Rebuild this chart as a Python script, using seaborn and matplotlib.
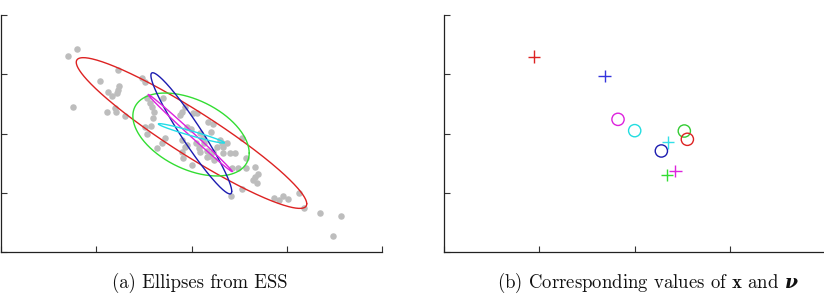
import numpy as np
import pandas as pd
import matplotlib
matplotlib.use("Agg")
import matplotlib.pyplot as plt
import seaborn as sns

# ---------------- data ----------------
# grey samples (left panel)
pts_x = [-1.300, -1.202, -1.248, -0.775, -0.964, -0.873, -0.838, -0.761, -0.768, -0.786,
         -0.891, -0.796, -0.803, -0.698, -0.523, -0.488, -0.471, -0.418, -0.436, -0.394,
         -0.408, -0.488, -0.429, -0.467, -0.296, -0.366, -0.313, -0.278, -0.103, -0.121,
         -0.068, 0.019, 0.061, -0.044, -0.005, 0.089, 0.177, 0.229, 0.201, 0.117,
         0.131, 0.082, -0.103, -0.068, -0.103, -0.051, -0.093, 0.002, 0.159, 0.194,
         0.236, 0.299, 0.334, 0.327, 0.404, 0.457, 0.569, 0.527, 0.422, 0.492,
         0.572, 0.667, 0.702, 0.667, 0.649, 0.684, 0.530, 0.411, 0.866, 0.922,
         0.964, 1.010, 1.125, 1.181, 1.349, 1.566, 1.482, 0.317, 0.369, 0.264,
         0.159, 0.089, 0.229, 0.047]
pts_y = [1.314, 1.426, 0.453, 1.077, 0.881, 0.706, 0.633, 0.807, 0.734, 0.678,
         0.357, 0.363, 0.425, 0.295, 0.931, 0.864, 0.594, 0.453, 0.509, 0.369,
         0.256, 0.115, 0.132, -0.008, 0.605, -0.250, -0.166, -0.070, 0.357, 0.312,
         0.453, 0.340, 0.340, 0.115, 0.076, 0.003, 0.200, 0.155, 0.031, -0.070,
         -0.166, -0.250, -0.110, -0.222, -0.307, -0.194, -0.419, -0.532, -0.290, -0.380,
         -0.447, -0.110, -0.222, -0.323, -0.335, -0.335, -0.408, -0.082, -0.588, -0.588,
         -0.588, -0.560, -0.689, -0.729, -0.785, -0.830, -0.937, -1.055, -1.083, -1.122,
         -1.049, -1.111, -1.010, -1.263, -1.336, -1.392, -1.730, -0.166, -0.166, -0.222,
         -0.391, -0.307, -0.307, -0.166]

# ellipses (left panel): centre and covariance entries
ell_names = ["red", "green", "blue", "magenta", "cyan"]
ell_cx = [0.000, -0.005, -0.002, -0.014, -0.002]
ell_cy = [0.008, -0.017, 0.003, 0.008, 0.003]
ell_sxx = [1.464, 0.373, 0.180, 0.1946, 0.1198]
ell_sxy = [-1.445, -0.191, -0.4145, -0.2863, -0.0548]
ell_syy = [1.618, 0.490, 1.046, 0.4236, 0.0268]
ell_colors = ["#dd2222", "#33dd33", "#1c1cb0", "#dd22dd", "#22dde8"]

# right panel: x (plus) and nu (circle) values
plus_names = ["red", "blue", "cyan", "magenta", "green"]
plus_x = [-1.058, -0.313, 0.352, 0.429, 0.341]
plus_y = [1.297, 0.971, -0.149, -0.633, -0.700]
plus_colors = ["#dd2222", "#3333dd", "#33e0e8", "#dd22dd", "#33dd33"]

circ_names = ["magenta", "cyan", "green", "red", "blue"]
circ_x = [-0.173, 0.002, 0.523, 0.555, 0.282]
circ_y = [0.239, 0.048, 0.042, -0.098, -0.295]
circ_colors = ["#dd22dd", "#22dde0", "#33cc33", "#dd2222", "#1c1cb0"]

ticks = [-2, -1, 0, 1, 2]
captions = ["(a) Ellipses from ESS",
            r"(b) Corresponding values of $\mathbf{x}$ and $\mathbfit{\nu}$"]

# ---------------- style ----------------
sns.set_theme(style="ticks")
plt.rcParams["mathtext.fontset"] = "custom"
plt.rcParams["mathtext.rm"] = "cmr10"
plt.rcParams["mathtext.bf"] = "cmb10"
plt.rcParams["mathtext.bfit"] = "DejaVu Serif:italic:bold"
plt.rcParams["axes.formatter.use_mathtext"] = True

W, H = 824, 296
fig = plt.figure(figsize=(W / 100, H / 100), dpi=100)
ax1 = fig.add_axes([1 / W, (H - 252) / H, 381 / W, 237 / H])
ax2 = fig.add_axes([444 / W, (H - 252) / H, 381 / W, 237 / H])

for ax in (ax1, ax2):
    ax.set_xlim(-2, 2)
    ax.set_ylim(-2, 2)
    ax.set_xticks(ticks)
    ax.set_yticks(ticks)
    ax.set_xticklabels([])
    ax.set_yticklabels([])
    ax.tick_params(direction="in", length=4, width=0.8, color="#333333")
    for s in ("top", "right"):
        ax.spines[s].set_visible(False)
    for s in ("left", "bottom"):
        ax.spines[s].set_color("#222222")
        ax.spines[s].set_linewidth(0.9)
    ax.set_facecolor("white")

# left panel: grey samples
df_pts = pd.DataFrame({"x": pts_x, "y": pts_y})
sns.scatterplot(data=df_pts, x="x", y="y", ax=ax1, color="#bdbdbd", s=22,
                linewidth=0, legend=False, zorder=1)

# ellipses
t = np.linspace(0, 2 * np.pi, 400)
for name, cx, cy, sxx, sxy, syy, col in zip(ell_names, ell_cx, ell_cy, ell_sxx,
                                            ell_sxy, ell_syy, ell_colors):
    L = np.linalg.cholesky(np.array([[sxx, sxy], [sxy, syy]]))
    xy = L @ np.vstack([np.cos(t), np.sin(t)])
    d = pd.DataFrame({"x": cx + xy[0], "y": cy + xy[1]})
    sns.lineplot(data=d, x="x", y="y", sort=False, estimator=None, ax=ax1,
                 color=col, linewidth=1.0, zorder=2)
ax1.set_xlabel("")
ax1.set_ylabel("")

# right panel
df_plus = pd.DataFrame({"x": plus_x, "y": plus_y, "c": plus_names})
sns.scatterplot(data=df_plus, x="x", y="y", hue="c",
                palette=dict(zip(plus_names, plus_colors)), marker="+", s=80,
                linewidth=1.0, legend=False, ax=ax2)
coll = ax2.collections[-1]
coll.set_edgecolors(plus_colors)
coll.set_facecolors(plus_colors)

df_circ = pd.DataFrame({"x": circ_x, "y": circ_y, "c": circ_names})
sns.scatterplot(data=df_circ, x="x", y="y", hue="c",
                palette=dict(zip(circ_names, circ_colors)), marker="o", s=78,
                linewidth=1.0, legend=False, ax=ax2)
coll = ax2.collections[-1]
coll.set_edgecolors(circ_colors)
coll.set_facecolors("none")
ax2.set_xlabel("")
ax2.set_ylabel("")

# captions
fig.text(200 / W, (H - 288) / H, captions[0], ha="center", va="baseline",
         family="cmr10", fontsize=13.5, color="#111111")
fig.text(648 / W, (H - 288) / H, captions[1], ha="center", va="baseline",
         family="cmr10", fontsize=13.5, color="#111111")

fig.savefig("out.png", dpi=100, facecolor="white")
